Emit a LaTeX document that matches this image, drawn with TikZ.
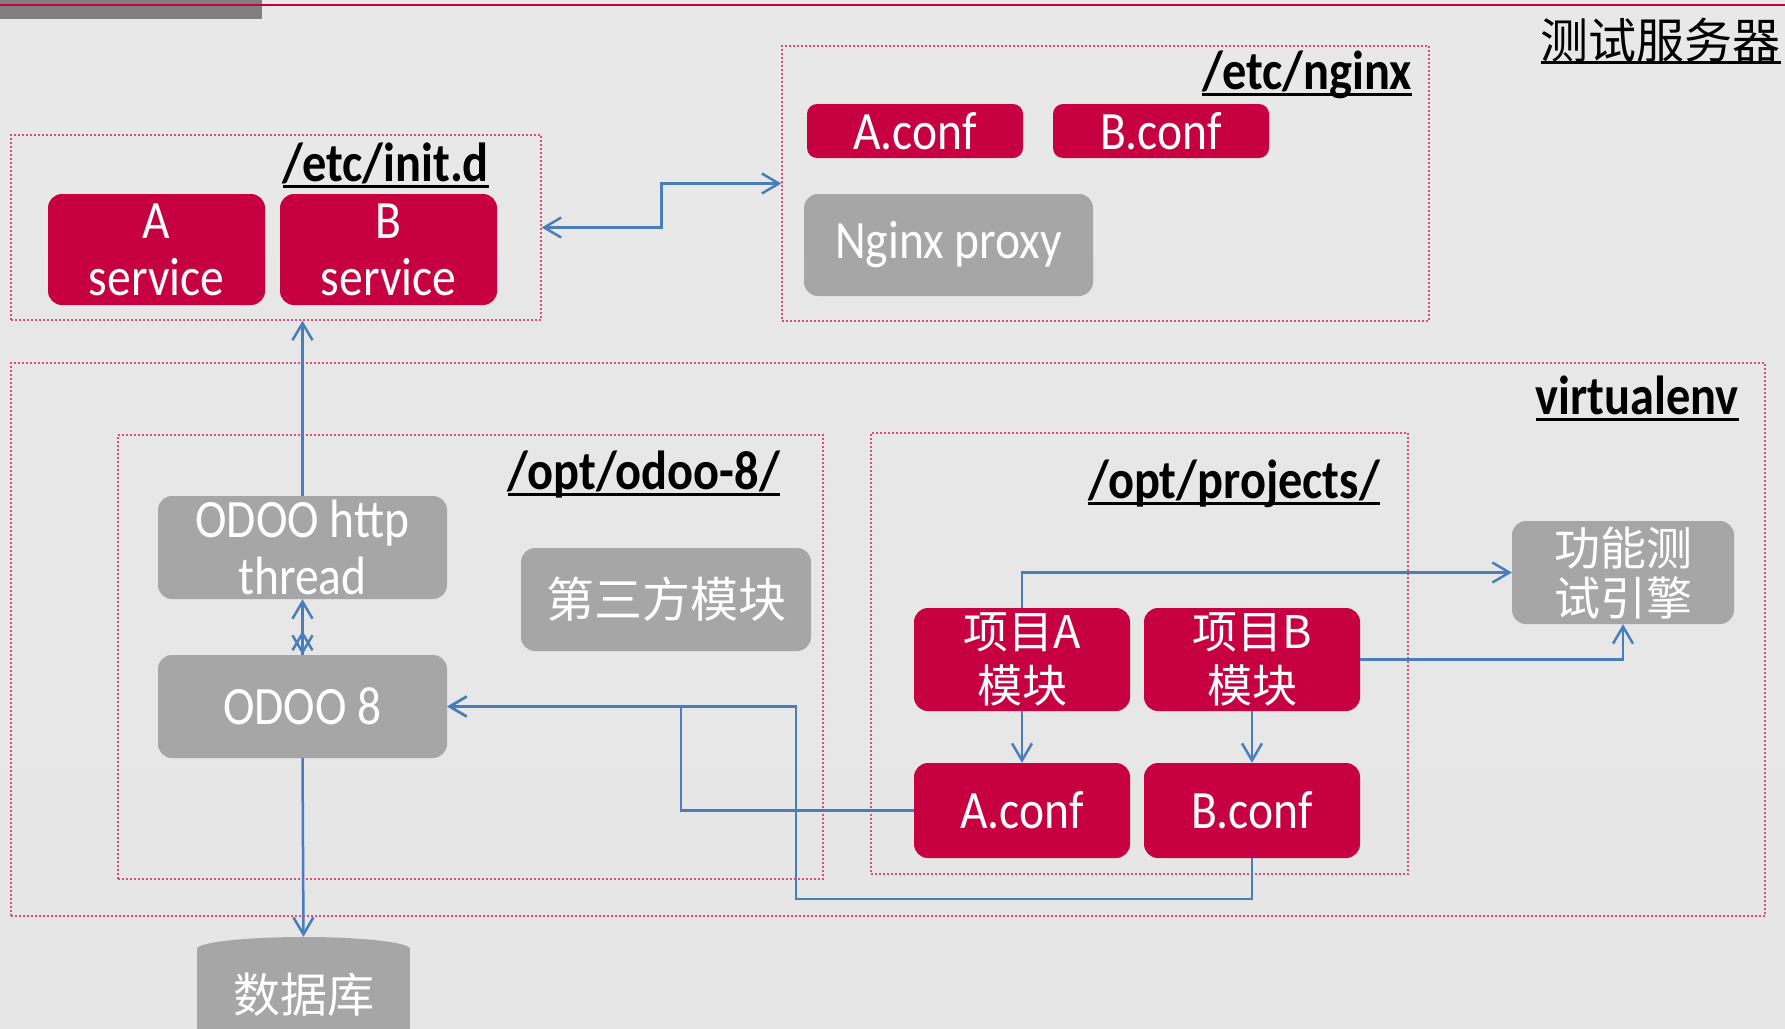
\documentclass[tikz,border=0pt]{standalone}
\usepackage{fontspec}
\setmainfont{Carlito}[FakeStretch=0.88]
\newfontfamily\cjk{Noto Sans CJK SC}
\usetikzlibrary{arrows.meta}
\definecolor{crim}{HTML}{C70042}
\definecolor{gbox}{HTML}{A6A6A6}
\definecolor{ablue}{HTML}{4A7EBB}
\definecolor{dotpink}{HTML}{E04A7E}
\definecolor{bgA}{HTML}{E8E8E8}
\definecolor{bgB}{HTML}{F3F3F3}
\definecolor{bgC}{HTML}{E6E6E6}
\definecolor{barGray}{HTML}{808080}
\newcommand{\myul}[1]{\sbox0{#1}\rlap{\rule[-0.12em]{\wd0}{0.055em}}\usebox0}
\tikzset{
  boxbase/.style={rounded corners=14pt, text=white, inner sep=0pt, align=center, font=\fontsize{54}{57}\selectfont},
  redbox/.style={boxbase, fill=crim},
  graybox/.style={boxbase, fill=gbox},
  container/.style={draw=dotpink, line width=1.4pt, dash pattern=on 1.8pt off 2.2pt, inner sep=0pt},
  lbl/.style={anchor=base east, inner sep=0pt, font=\fontsize{55}{57}\selectfont\bfseries},
  conn/.style={draw=ablue, line width=2.5pt},
  >={Straight Barb[length=17pt,width=20pt]}
}
\begin{document}
\begin{tikzpicture}[x=1pt,y=-1pt]
\clip (0,0) rectangle (1785,1028);
\shade[top color=bgA, middle color=bgB, bottom color=bgC] (0,0) rectangle (1785,1028);
\fill[barGray] (0,0) rectangle (262,19);
\draw[crim, line width=1.5pt] (0,5) -- (1785,5);

% containers
\node[container, minimum width=530, minimum height=185] (initd) at (276,227.5) {};
\node[container, minimum width=647, minimum height=275] (nginx) at (1105.5,183.5) {};
\node[container, minimum width=1754, minimum height=553] (venv) at (888,639.5) {};
\node[container, minimum width=705, minimum height=444] (odoo) at (470.5,657) {};
\node[container, minimum width=537, minimum height=441] (proj) at (1139.5,653.5) {};

% labels
\node[anchor=base east, inner sep=0pt, font=\cjk\fontsize{48}{50}\selectfont] (ltitle) at (1781,58) {\myul{测试服务器}};
\node[lbl] (linit) at (489,181) {\myul{/etc/init.d}};
\node[lbl] (lnginx) at (1412,89) {\myul{/etc/nginx}};
\node[lbl] (lvenv) at (1739,414) {\myul{virtualenv}};
\node[lbl] (lodoo) at (780,489) {\myul{/opt/odoo-8/}};
\node[lbl] (lproj) at (1380,498) {\myul{/opt/projects/}};

% boxes
\node[redbox, minimum width=217, minimum height=111] (asvc) at (156.5,249.5) {A\\service};
\node[redbox, minimum width=217, minimum height=111] (bsvc) at (388.5,249.5) {B\\service};
\node[redbox, rounded corners=10pt, minimum width=216, minimum height=54] (aconf1) at (915,131) {A.conf};
\node[redbox, rounded corners=10pt, minimum width=216, minimum height=54] (bconf1) at (1161,131) {B.conf};
\node[graybox, minimum width=289, minimum height=102] (proxy) at (948.5,245) {Nginx proxy};
\node[graybox, minimum width=289, minimum height=103] (thread) at (302.5,547.5) {ODOO http\\thread};
\node[graybox, minimum width=289, minimum height=103] (odoo8) at (302.5,706.5) {ODOO 8};
\node[graybox, minimum width=290, minimum height=103, font=\cjk\fontsize{48}{50}\selectfont] (third) at (666,599.5) {第三方模块};
\node[redbox, minimum width=216, minimum height=103, font=\cjk\fontsize{45}{54}\selectfont] (pa) at (1022,659.5) {项目A\\模块};
\node[redbox, minimum width=216, minimum height=103, font=\cjk\fontsize{45}{54}\selectfont] (pb) at (1252,659.5) {项目B\\模块};
\node[redbox, minimum width=216, minimum height=95] (aconf2) at (1022,810.5) {A.conf};
\node[redbox, minimum width=216, minimum height=95] (bconf2) at (1252,810.5) {B.conf};
\node[graybox, minimum width=222, minimum height=103, font=\cjk\fontsize{46}{50}\selectfont] (engine) at (1623,572.5) {功能测\\试引擎};

% database cylinder
\fill[gbox] (303.5,949) ellipse [x radius=106.5, y radius=12];
\fill[gbox] (197,949) rectangle (410,1045);
\node[inner sep=0pt, minimum width=213, minimum height=115, text=white, font=\cjk\fontsize{47}{50}\selectfont] (db) at (303.5,994.5) {数据库};

% connectors
\draw[conn, <->] (initd.east) -- ++(120,0) |- (nginx.west);
\draw[conn, ->] (thread.north) -- (thread.north |- initd.south);
\draw[conn, <->] (odoo8.north) -- (thread.south);
\draw[conn, ->] (odoo8.north) -- ++(0,-24);
\draw[conn, ->] (odoo8.south) -- (db.north);
\draw[conn, ->] (aconf2.west) -- ++(-233,0) |- (odoo8.east);
\draw[conn, ->] (bconf2.south) |- (796,899) |- (odoo8.east);
\draw[conn, ->] (pa.north) |- (engine.west);
\draw[conn, ->] (pb.east) -| (engine.south);
\draw[conn, ->] (pa.south) -- (aconf2.north);
\draw[conn, ->] (pb.south) -- (bconf2.north);
\end{tikzpicture}
\end{document}
